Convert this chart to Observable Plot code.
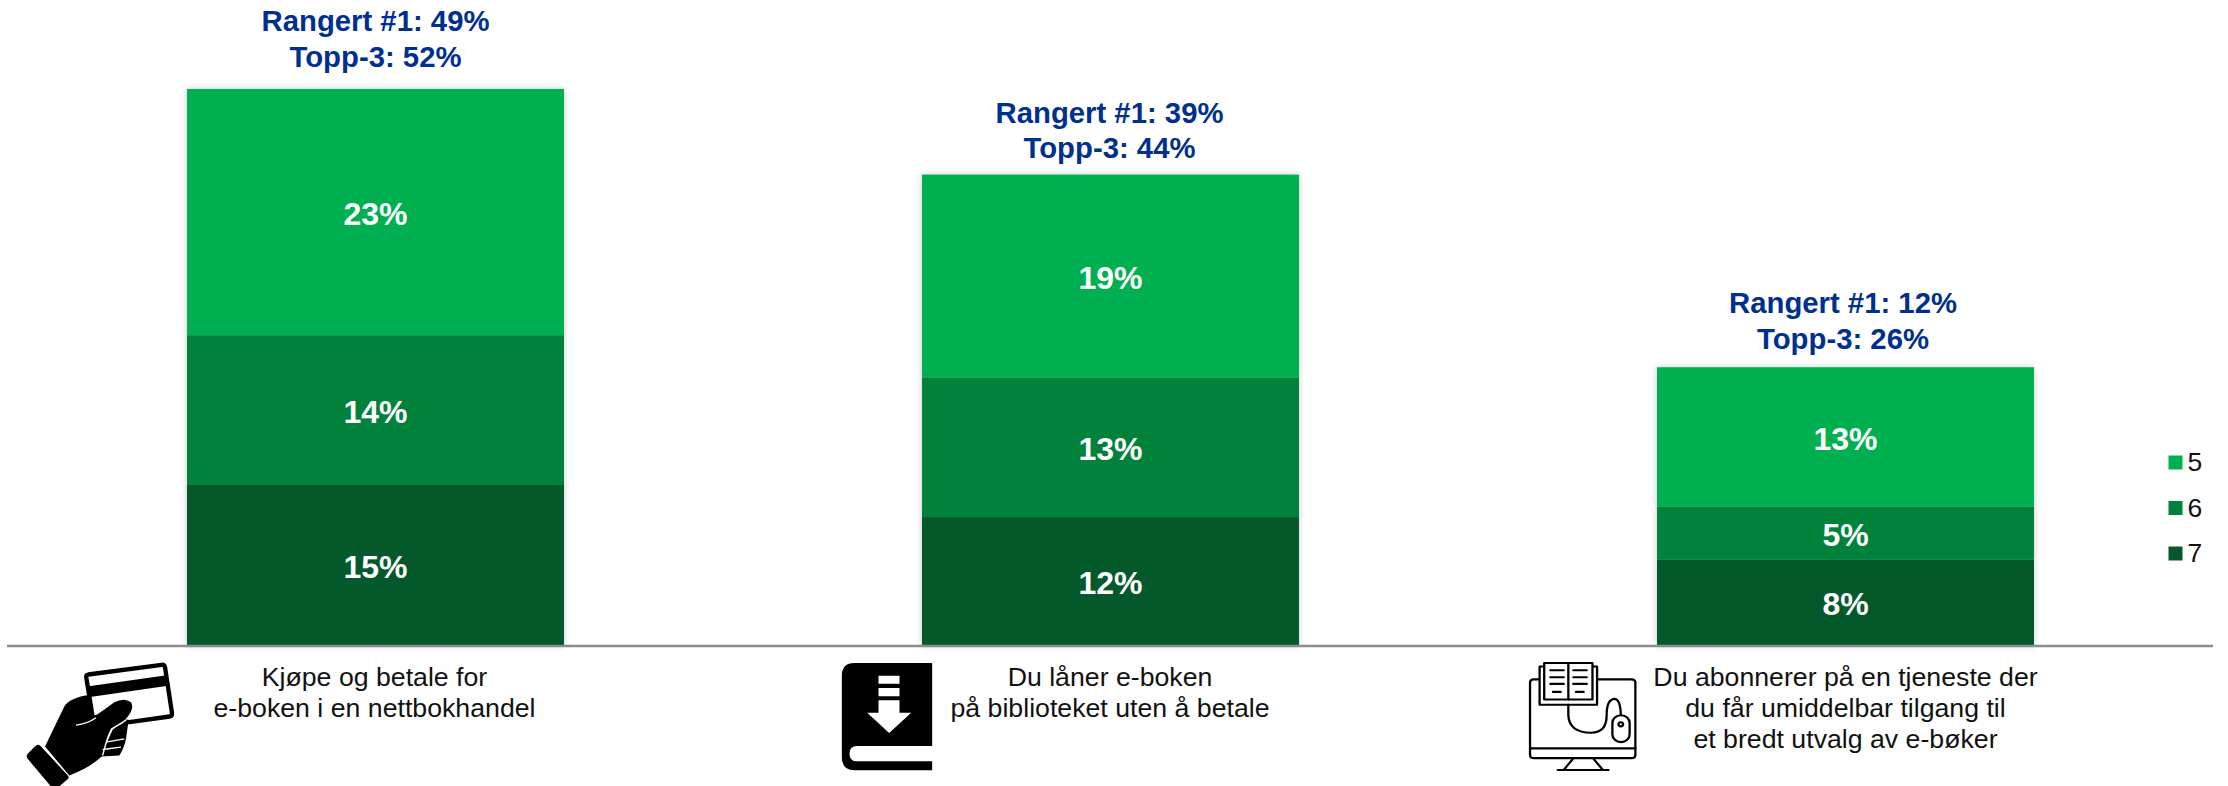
<!DOCTYPE html>
<html><head><meta charset="utf-8">
<script src="https://cdn.jsdelivr.net/npm/d3@7"></script>
<script src="https://cdn.jsdelivr.net/npm/@observablehq/plot@0.6"></script>
<style>
html,body{margin:0;padding:0;background:#fff}
svg{display:block}
g[aria-label="bar"]{filter:drop-shadow(0 0 3px rgba(0,0,0,.22))}
</style></head><body><div id="chart"></div>
<script>
const categories=["Kjøpe og betale for\ne-boken i en nettbokhandel","Du låner e-boken\npå biblioteket uten å betale","Du abonnerer på en tjeneste der\ndu får umiddelbar tilgang til\net bredt utvalg av e-bøker"];
const ranks=["7","6","5"];
const values7=[15,12,8];
const values6=[14,13,5];
const values5=[23,19,13];
const rangert=[49,39,12];
const topp3=[52,44,26];
const colors=["#04592A","#00823B","#00B050"];
const legendKeys=["5","6","7"];

const hand=`<svg xmlns="http://www.w3.org/2000/svg" viewBox="0 0 600 438" preserveAspectRatio="none"><path d="M256 112Q254 104 262 102L482 73Q490 72 492 80L513 218Q514 226 506 228L385 245L275 230Z" fill="#fff" stroke="#000" stroke-width="13" stroke-linejoin="round"/><path d="M258 138L497 104L501 136L262 170Z" fill="#000"/><path d="M335 268Q350 250 382 245L375 295Q370 322 355 345L300 348Q320 300 335 268Z" fill="#000"/><path d="M132 318L190 198Q205 172 268 163L278 228Q300 215 340 185Q370 170 390 185Q402 205 375 235Q350 255 332 265Q318 290 305 345Q270 380 205 405Z" fill="#000"/><path d="M225 254Q260 250 285 232" stroke="#fff" stroke-width="4" fill="none"/><path d="M376 238Q350 255 332 265Q318 290 305 345M315 305L370 295M305 327L360 320" stroke="#fff" stroke-width="4" fill="none"/><path d="M80 340L104 316Q112 310 118 316L200 404Q206 410 200 416L172 440L150 438L80 355Q74 347 80 340Z" fill="#000"/></svg>`;
const book=`<svg xmlns="http://www.w3.org/2000/svg" viewBox="120 90 285 340" preserveAspectRatio="none"><path d="M398 98H165Q127 98 127 136V380Q127 420 165 420H398V393H172Q150 393 150 370Q150 347 172 347H398Z" fill="#000"/><path d="M237 136H300V160H237ZM237 173H300V198H237ZM237 210H300V247H335L269 308L203 247H237Z" fill="#fff"/></svg>`;
const screen_=`<svg xmlns="http://www.w3.org/2000/svg" viewBox="70 95 295 330" preserveAspectRatio="none"><g fill="none" stroke="#000" stroke-width="6" stroke-linejoin="round" stroke-linecap="round"><path d="M105 152H90Q80 152 80 162V368Q80 378 90 378H345Q355 378 355 368V162Q355 152 345 152H255"/><path d="M80 350H355M192 380L168 412M246 380L270 412M152 412H285"/><rect x="105" y="115" width="150" height="110" fill="#fff"/><rect x="117" y="105" width="126" height="105" fill="#fff"/><path d="M180 105V210M133 126H168M133 146H168M133 165H168M193 126H228M193 146H228M193 165H228M140 188H160M200 188H220"/><path d="M180 225V255Q182 305 240 305Q280 305 280 255Q280 210 300 208Q316 208 317 255"/><rect x="295" y="255" width="45" height="77" rx="22" fill="#fff"/><circle cx="317" cy="281" r="6"/></g></svg>`;
const uri=s=>"data:image/svg+xml;charset=utf-8,"+encodeURIComponent(s);

const rows=[];
categories.forEach((c,i)=>{
  [values7,values6,values5].forEach((v,j)=>rows.push({category:c,rank:ranks[j],value:v[i]}));
});
const tops=categories.map((c,i)=>({category:c,total:topp3[i],label:`Rangert #1: ${rangert[i]}%\nTopp-3: ${topp3[i]}%`}));
const topOffsets=[{dx:-0.5,dy:-23},{dx:-1.5,dy:-17},{dx:-3,dy:-19}];
const labelOffsets=[-1.5,-1,-0.5];
const icons=[
 {category:categories[0],src:uri(hand),dx:-275,dy:67.5,w:200,h:146},
 {category:categories[1],src:uri(book),dx:-224,dy:71,w:95,h:113.3},
 {category:categories[2],src:uri(screen_),dx:-263.3,dy:71,w:113,h:115}
];
const font="Liberation Sans, Arial, sans-serif";
const legendMarks=legendKeys.flatMap((k,i)=>[
  Plot.dot([k],{frameAnchor:"top-left",dx:2175,dy:462+i*45.5,symbol:"square",r:7.9,fill:colors[2-i]}),
  Plot.text([k],{frameAnchor:"top-left",dx:2187,dy:462+i*45.7,text:d=>d,textAnchor:"start",lineAnchor:"middle",fontSize:26.5,fill:"#111",fontFamily:font})
]);
const chart=Plot.plot({
  width:2228,height:786,marginLeft:0,marginRight:0,marginTop:0,marginBottom:0,
  style:{background:"#fff",fontFamily:font},
  x:{domain:categories,range:[6.75,2213.25],padding:0.4875,paddingOuter:0.24375,axis:null},
  y:{domain:[0,52],range:[645.5,89],axis:null},
  color:{domain:ranks,range:colors},
  marks:[
    Plot.barY(rows,{x:"category",y:"value",z:"rank",fill:"rank"}),
    Plot.ruleY([0],{stroke:"#8c8c8c",strokeWidth:2.4,insetLeft:7,insetRight:15}),
    Plot.text(rows,Plot.stackY({x:"category",y:"value",z:"rank",text:d=>d.value+"%",fill:"#fff",fontWeight:"bold",fontSize:32,dy:2,dx:-0.5,fontFamily:font})),
    ...tops.map((t,i)=>Plot.text([t],{x:"category",y:"total",text:"label",dx:topOffsets[i].dx,dy:topOffsets[i].dy,lineAnchor:"bottom",lineHeight:1.21,fill:"#00308F",fontWeight:"bold",fontSize:29.3,fontFamily:font})),
    ...categories.map((c,i)=>Plot.text([c],{x:d=>d,y:()=>0,text:d=>d,dx:labelOffsets[i],dy:18.5,lineAnchor:"top",lineHeight:1.155,fill:"#111",fontSize:26.7,fontFamily:font})),
    ...icons.map(ic=>Plot.image([ic],{x:"category",y:()=>0,src:d=>d.src,dx:ic.dx,dy:ic.dy,width:ic.w,height:ic.h,preserveAspectRatio:"none"})),
    ...legendMarks
  ]
});
document.getElementById("chart").append(chart);
</script></body></html>
